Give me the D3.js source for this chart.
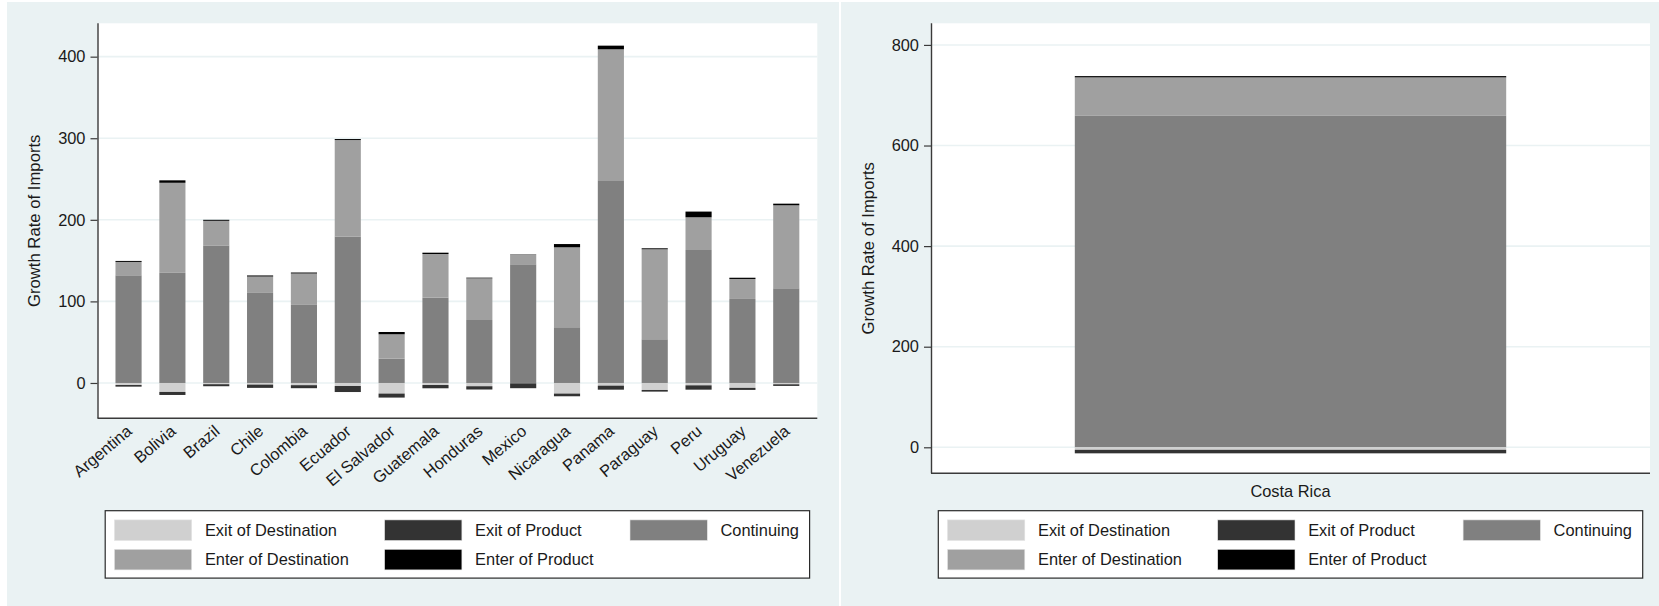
<!DOCTYPE html>
<html>
<head>
<meta charset="utf-8">
<script src="https://cdn.jsdelivr.net/npm/d3@7/dist/d3.min.js"></script>
<style>
  html, body { margin: 0; padding: 0; background: #ffffff; }
  svg { display: block; }
  text { font-family: "Liberation Sans", Arial, sans-serif; fill: #1a1a1a; }
</style>
</head>
<body>
<svg id="chart" width="1659" height="606"></svg>
<script>
// Growth rate of imports decomposed by margin, per country
const countries = ["Argentina", "Bolivia", "Brazil", "Chile", "Colombia", "Ecuador", "El Salvador",
  "Guatemala", "Honduras", "Mexico", "Nicaragua", "Panama", "Paraguay", "Peru", "Uruguay", "Venezuela"];
const continuing = [132, 135, 168.6, 110.4, 95.7, 179.6, 29.8, 104.6, 77.2, 145.5, 68.3, 248.5, 53.6, 163, 103, 116.1];
const enterDestination = [16.4, 110.4, 30.2, 20.1, 38.5, 118.2, 29.9, 53.5, 51.1, 11.4, 98, 160.5, 110.3, 40.1, 24.5, 101.7];
const enterProduct = [1.2, 3, 1.2, 1.3, 1.2, 1.2, 2.8, 1.6, 0.8, 0.5, 4, 4.5, 1.2, 7, 1.5, 2];
const exitDestination = [-2.5, -11, -1.5, -2, -2.7, -3.7, -13, -2.5, -4, -0.4, -13, -3.3, -8.6, -2.9, -6, -1.6];
const exitProduct = [-2, -3.7, -2.5, -4, -3.7, -7.4, -4.9, -4, -4, -6, -3.3, -4.9, -2, -5.3, -2.5, -2];

// Costa Rica, shown on its own scale
const crCountries = ["Costa Rica"];
const crContinuing = [659];
const crEnterDestination = [76.5];
const crEnterProduct = [2.5];
const crExitDestination = [-5];
const crExitProduct = [-7];

const leftTicks = [0, 100, 200, 300, 400];
const rightTicks = [0, 200, 400, 600, 800];

const seriesKeys = ["continuing", "enterDestination", "enterProduct", "exitDestination", "exitProduct"];
const seriesLabels = {
  exitDestination: "Exit of Destination",
  exitProduct: "Exit of Product",
  continuing: "Continuing",
  enterDestination: "Enter of Destination",
  enterProduct: "Enter of Product"
};
const seriesColors = {
  exitDestination: "#d0d0d0",
  exitProduct: "#333333",
  continuing: "#808080",
  enterDestination: "#a0a0a0",
  enterProduct: "#000000"
};
const legendOrder = [
  ["exitDestination", "exitProduct", "continuing"],
  ["enterDestination", "enterProduct"]
];

const bg = "#eaf2f3";
const fontSize = 16.4;
const svg = d3.select("#chart");

function buildRows(names, cont, ed, ep, xd, xp) {
  return names.map((n, i) => ({
    name: n,
    continuing: cont[i],
    enterDestination: ed[i],
    enterProduct: ep[i],
    exitDestination: xd[i],
    exitProduct: xp[i]
  }));
}

function drawPanel(opts) {
  const g = svg.append("g");
  // panel background
  g.append("rect")
    .attr("x", opts.panel[0]).attr("y", opts.panel[1])
    .attr("width", opts.panel[2]).attr("height", opts.panel[3])
    .attr("fill", bg);

  const [x0, x1, y0, y1] = opts.plot;
  g.append("rect")
    .attr("x", x0).attr("y", y0)
    .attr("width", x1 - x0).attr("height", y1 - y0)
    .attr("fill", "#ffffff");

  const x = d3.scaleBand().domain(opts.rows.map(d => d.name)).range([x0, x1])
    .paddingInner(opts.padInner).paddingOuter(opts.padOuter);
  const y = d3.scaleLinear().domain(opts.yDomain).range([y1, y0]);

  // gridlines
  g.append("g").selectAll("line").data(opts.ticks).join("line")
    .attr("x1", x0).attr("x2", x1)
    .attr("y1", d => y(d)).attr("y2", d => y(d))
    .attr("stroke", bg).attr("stroke-width", 1.6);

  // stacked bars: positive margins up from zero, exits down from zero
  const stack = d3.stack().keys(seriesKeys).offset(d3.stackOffsetDiverging);
  const layers = stack(opts.rows);
  g.append("g").selectAll("g").data(layers).join("g")
    .attr("fill", d => seriesColors[d.key])
    .selectAll("rect").data(d => d).join("rect")
    .attr("x", d => x(d.data.name))
    .attr("width", x.bandwidth())
    .attr("y", d => y(Math.max(d[0], d[1])))
    .attr("height", d => Math.abs(y(d[0]) - y(d[1])));

  // y axis
  const yAxis = g.append("g")
    .attr("transform", `translate(${x0},0)`)
    .call(d3.axisLeft(y).tickValues(opts.ticks).tickSize(7).tickPadding(5).tickSizeOuter(0));
  yAxis.select(".domain").attr("stroke", "#3a3a3a").attr("stroke-width", 1.4)
    .attr("d", `M0.5,${y0}V${y1}`);
  yAxis.selectAll(".tick line").attr("stroke", "#3a3a3a").attr("stroke-width", 1.2);
  yAxis.selectAll(".tick text").attr("font-size", fontSize).attr("fill", "#1a1a1a")
    .attr("font-family", "'Liberation Sans', Arial, sans-serif");

  // x axis line
  g.append("line")
    .attr("x1", x0).attr("x2", x1)
    .attr("y1", y1).attr("y2", y1)
    .attr("stroke", "#3a3a3a").attr("stroke-width", 1.4);

  // category labels
  const labels = g.append("g").selectAll("text").data(opts.rows).join("text")
    .attr("font-size", fontSize)
    .text(d => d.name);
  if (opts.rotateLabels) {
    labels.attr("text-anchor", "end")
      .attr("transform", d => `translate(${x(d.name) + x.bandwidth() / 2 + 4.5},${y1 + 14.7}) rotate(-40)`);
  } else {
    labels.attr("text-anchor", "middle")
      .attr("x", d => x(d.name) + x.bandwidth() / 2)
      .attr("y", y1 + 24);
  }

  // y axis title
  g.append("text")
    .attr("font-size", 16.7)
    .attr("text-anchor", "middle")
    .attr("transform", `translate(${opts.titleX},${(y0 + y1) / 2}) rotate(-90)`)
    .text("Growth Rate of Imports");

  // legend
  const lx = (x0 + x1) / 2 - 352.2;
  const ly = 510.7;
  const legend = g.append("g").attr("transform", `translate(${lx},${ly})`);
  legend.append("rect")
    .attr("x", 0).attr("y", 0).attr("width", 704.4).attr("height", 67.4)
    .attr("fill", "#ffffff").attr("stroke", "#2a2a2a").attr("stroke-width", 1.2);
  const colX = [9.2, 279.4, 524.8];
  const rowY = [9.2, 38.6];
  legendOrder.forEach((row, r) => {
    row.forEach((key, c) => {
      legend.append("rect")
        .attr("x", colX[c]).attr("y", rowY[r])
        .attr("width", 77.3).attr("height", 20.6)
        .attr("fill", seriesColors[key])
        .attr("stroke", "#e4e4e4").attr("stroke-width", 0.6);
      legend.append("text")
        .attr("x", colX[c] + 90.5).attr("y", rowY[r] + 10.3)
        .attr("dy", "0.36em")
        .attr("font-size", fontSize)
        .text(seriesLabels[key]);
    });
  });
}

drawPanel({
  panel: [7, 2, 832, 604],
  plot: [97.5, 817.3, 23.3, 418.3],
  yDomain: [-43.3, 440.9],
  ticks: leftTicks,
  rows: buildRows(countries, continuing, enterDestination, enterProduct, exitDestination, exitProduct),
  padInner: 0.404,
  padOuter: 0.41,
  rotateLabels: true,
  titleX: 40
});

drawPanel({
  panel: [841, 2, 818, 604],
  plot: [931, 1650, 23.3, 473.3],
  yDomain: [-51.7, 843],
  ticks: rightTicks,
  rows: buildRows(crCountries, crContinuing, crEnterDestination, crEnterProduct, crExitDestination, crExitProduct),
  padInner: 0.4,
  padOuter: 0.146,
  rotateLabels: false,
  titleX: 873.5
});
</script>
</body>
</html>
